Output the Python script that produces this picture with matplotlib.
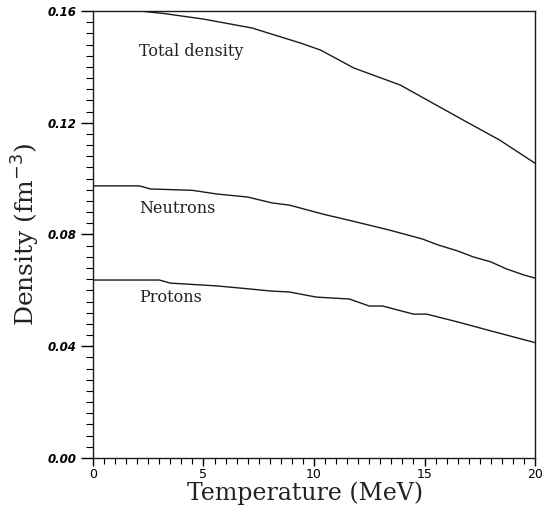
import numpy as np
import matplotlib.pyplot as plt
from matplotlib.ticker import MultipleLocator, FormatStrFormatter

# Density vs temperature
t_total = [0.0, 2.1, 3.2, 5.0, 7.2, 8.5, 9.4, 10.3, 11.8, 13.9, 16.9, 18.4, 20.0]
total = [0.1605, 0.1600, 0.1591, 0.1571, 0.1539, 0.1507, 0.1485, 0.1460, 0.1396, 0.1335, 0.1203, 0.1138, 0.1055]

t_neut = [0.0, 2.1, 2.6, 4.5, 5.6, 7.0, 8.1, 8.9, 10.4, 11.9, 13.4, 14.9, 15.6, 16.5, 17.2, 18.0, 18.7, 19.5, 20.0]
neutrons = [0.0974, 0.0974, 0.0963, 0.0958, 0.0945, 0.0934, 0.0913, 0.0905, 0.0873, 0.0845, 0.0816, 0.0784,
            0.0763, 0.0741, 0.0720, 0.0702, 0.0677, 0.0655, 0.0644]

t_prot = [0.0, 3.0, 3.5, 5.6, 7.1, 8.0, 8.9, 10.1, 11.6, 12.5, 13.1, 14.5, 15.1, 16.5, 18.0, 20.0]
protons = [0.0637, 0.0637, 0.0626, 0.0616, 0.0605, 0.0598, 0.0594, 0.0576, 0.0569, 0.0544, 0.0544, 0.0515,
           0.0515, 0.0487, 0.0455, 0.0413]

curve_labels = [("Total density", 2.1, 0.1455), ("Neutrons", 2.1, 0.0892), ("Protons", 2.1, 0.0575)]

fig = plt.figure(figsize=(5.45, 5.13), dpi=100)
ax = fig.add_axes([0.1706, 0.1072, 0.8111, 0.8714])

for x, y in [(t_total, total), (t_neut, neutrons), (t_prot, protons)]:
    ax.plot(x, y, color='#1a1a1a', lw=1.0)

for txt, x, y in curve_labels:
    ax.text(x, y, txt, family='DejaVu Serif', fontsize=11.5, color='#222222', va='center', ha='left')

ax.set_xlim(0, 20)
ax.set_ylim(0, 0.16)
ax.xaxis.set_major_locator(MultipleLocator(5))
ax.xaxis.set_minor_locator(MultipleLocator(0.5))
ax.yaxis.set_major_locator(MultipleLocator(0.04))
ax.yaxis.set_minor_locator(MultipleLocator(0.004))
ax.yaxis.set_major_formatter(FormatStrFormatter('%.2f'))

ax.tick_params(axis='y', which='major', direction='out', length=9, width=1.0, pad=3,
               labelsize=8.5)
ax.tick_params(axis='y', which='minor', direction='out', length=5, width=0.8)
ax.tick_params(axis='x', which='major', direction='out', length=6, width=1.0, pad=1,
               labelsize=9)
ax.tick_params(axis='x', which='minor', direction='out', length=4, width=0.8)
for lab in ax.get_yticklabels():
    lab.set_fontweight('bold')
    lab.set_fontstyle('italic')

for s in ax.spines.values():
    s.set_linewidth(1.0)
    s.set_color('#1a1a1a')

ax.set_xlabel('Temperature (MeV)', family='DejaVu Serif', fontsize=17, color='#222222')
ax.xaxis.set_label_coords(0.48, -0.052)
ax.xaxis.label.set_va('top')
ax.set_ylabel('Density (fm$^{-3}$)', family='DejaVu Serif', fontsize=18, color='#222222')
ax.yaxis.set_label_coords(-0.115, 0.5)

fig.savefig('out.png', dpi=100)
